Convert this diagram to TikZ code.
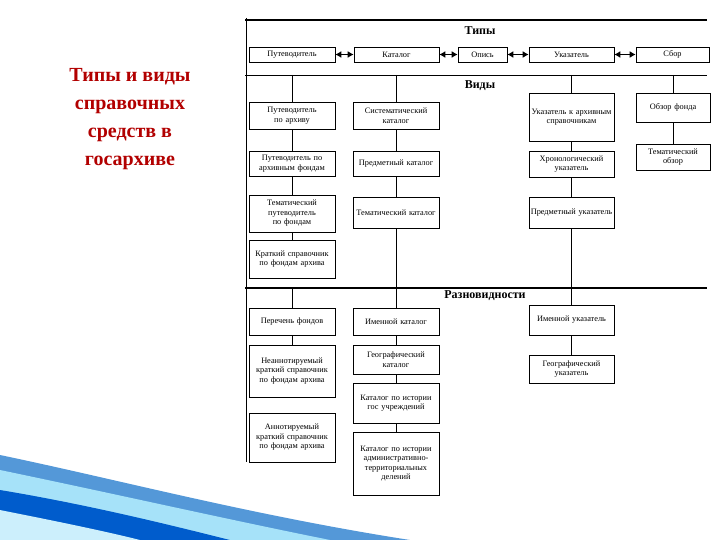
\documentclass[tikz,border=0pt]{standalone}
\usepackage{fontspec}
\setmainfont{Liberation Serif}
\usetikzlibrary{arrows.meta}
\begin{document}
\begin{tikzpicture}[x=1pt,y=-1pt,
 bx/.style={draw,line width=0.6pt,inner sep=1pt,align=center,font=\fontsize{8.3}{9.5}\selectfont},
 hd/.style={font=\bfseries\fontsize{12}{13}\selectfont},
 ln/.style={line width=0.6pt},
 dbl/.style={line width=1.5pt,{Latex[length=6pt,width=7pt]}-{Latex[length=6pt,width=7pt]}}]
\useasboundingbox (0,0) rectangle (720,540);
% frame
\draw[line width=1.8pt] (245,20) -- (707,20);
\draw[ln] (246,18) -- (246,462);
\node[hd] (t1) at (480,31) {Типы};
% top row
\newcommand{\bxat}[6]{\node[bx,minimum width=#4-#2,minimum height=#5-#3,text width=#4-#2-3] (#1) at ({(#2+#4)/2},{(#3+#5)/2}) {#6};}
\bxat{p}{249}{47}{335}{62}{Путеводитель}
\bxat{k}{354}{47}{439}{62}{Каталог}
\bxat{o}{458}{47}{507}{62}{Опись}
\bxat{u}{529}{47}{614}{62}{Указатель}
\bxat{s}{636}{47}{709}{62}{Сбор}
\draw[dbl] (p) -- (k);
\draw[dbl] (k) -- (o);
\draw[dbl] (o) -- (u);
\draw[dbl] (u) -- (s);
\coordinate (sep) at (245,75);
\draw[ln] (sep) -- (707,75);
\node[hd] (t2) at (480,86) {Виды};
\coordinate (sep2) at (245,288);
% left column
\bxat{p1}{249}{102}{335}{129}{Путеводитель по архиву}
\bxat{p2}{249}{151}{335}{176}{Путеводитель по архивным фондам}
\bxat{p3}{249}{195}{335}{232}{Тематический путеводитель по фондам}
\bxat{p4}{249}{240}{335}{278}{Краткий справочник по фондам архива}
\draw[ln] (p1.north |- sep) -- (p1); \draw[ln] (p1) -- (p2); \draw[ln] (p2) -- (p3); \draw[ln] (p3) -- (p4);
% catalog column
\bxat{k1}{353}{102}{439}{129}{Систематический каталог}
\bxat{k2}{353}{151}{439}{176}{Предметный каталог}
\bxat{k3}{353}{197}{439}{228}{Тематический каталог}
\draw[ln] (k1.north |- sep) -- (k1); \draw[ln] (k1) -- (k2); \draw[ln] (k2) -- (k3); \draw[ln] (k3) -- (k3.south |- sep2);
% index column
\bxat{u1}{529}{93}{614}{141}{Указатель к архивным справочникам}
\bxat{u2}{529}{151}{614}{177}{Хронологический указатель}
\bxat{u3}{529}{197}{614}{228}{Предметный указатель}
\draw[ln] (u1.north |- sep) -- (u1); \draw[ln] (u1) -- (u2); \draw[ln] (u2) -- (u3); \draw[ln] (u3) -- (u3.south |- sep2);
% review column
\bxat{s1}{636}{93}{710}{122}{Обзор фонда}
\bxat{s2}{636}{144}{710}{170}{Тематический обзор}
\draw[ln] (s1.north |- sep) -- (s1); \draw[ln] (s1) -- (s2);
% varieties
\draw[line width=1.8pt] (sep2) -- (707,288);
\node[hd] (t3) at (485,296) {Разновидности};
\bxat{q1}{249}{308}{335}{335}{Перечень фондов}
\bxat{q2}{249}{345}{335}{397}{Неаннотируемый краткий справочник по фондам архива}
\bxat{q3}{249}{413}{335}{462}{Аннотируемый краткий справочник по фондам архива}
\draw[ln] (q1.north |- sep2) -- (q1); \draw[ln] (q1) -- (q2);
\bxat{c1}{353}{308}{439}{335}{Именной каталог}
\bxat{c2}{353}{345}{439}{374}{Географический каталог}
\bxat{c3}{353}{383}{439}{423}{Каталог по истории гос учреждений}
\bxat{c4}{353}{432}{439}{495}{Каталог по истории административно-территориальных делений}
\draw[ln] (c1.north |- sep2) -- (c1); \draw[ln] (c1) -- (c2); \draw[ln] (c2) -- (c3); \draw[ln] (c3) -- (c4);
\bxat{v1}{529}{305}{614}{335}{Именной указатель}
\bxat{v2}{529}{355}{614}{383}{Географический указатель}
\draw[ln] (v1.north |- sep2) -- (v1); \draw[ln] (v1) -- (v2);
% left title
\node[font=\bfseries\fontsize{20}{28}\selectfont,text=red!70!black,align=center] (title) at (130,119) {Типы и виды\\справочных\\средств в\\госархиве};
% decorative swoosh
\fill[cyan!60!blue!70] (0,455) .. controls (120,480) and (250,515) .. (410,540) -- (0,540) -- cycle;
\fill[cyan!35!white] (0,470) .. controls (120,495) and (230,520) .. (330,540) -- (0,540) -- cycle;
\fill[blue!55!cyan!80!black] (0,490) .. controls (90,505) and (170,525) .. (230,540) -- (0,540) -- cycle;
\fill[cyan!20!white] (0,510) .. controls (50,520) and (100,530) .. (140,540) -- (0,540) -- cycle;
\end{tikzpicture}
\end{document}
